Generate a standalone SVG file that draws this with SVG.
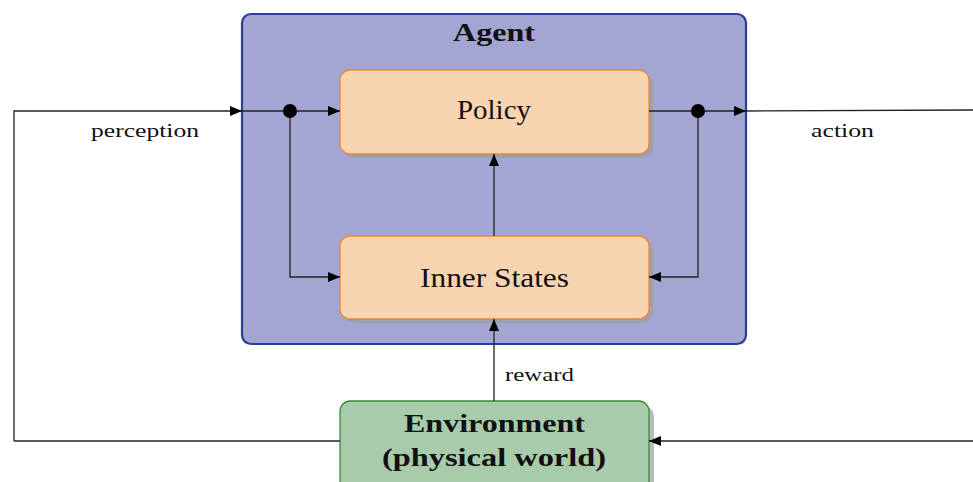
<svg xmlns="http://www.w3.org/2000/svg" width="973" height="482" viewBox="0 0 973 482">
<defs>
<marker id="arr" viewBox="0 0 12 10" refX="12" refY="5" markerWidth="12" markerHeight="10" markerUnits="userSpaceOnUse" orient="auto">
<path d="M0,0 L12,5 L0,10 Z" fill="#000"/>
</marker>
</defs>
<style>
.t{font-family:"Liberation Serif","DejaVu Serif",serif;fill:#111;text-anchor:middle}
.box{fill:#f8d4b0;stroke:#e8883a;stroke-width:1.3}
.sh{fill:#9c9c9c;opacity:0.7}
.ln{fill:none;stroke:#222;stroke-width:1.3}
</style>
<rect width="973" height="482" fill="#fff"/>
<g id="agent">
<rect x="242" y="14" width="504" height="330" rx="9" fill="#a3a5d3" stroke="#2b3f9a" stroke-width="2.2"/>
<text class="t" x="494" y="41" font-size="25" font-weight="bold" textLength="82" lengthAdjust="spacingAndGlyphs">Agent</text>
</g>
<g id="policy">
<rect class="sh" x="344" y="74" width="309" height="84" rx="10"/>
<rect class="box" x="340" y="70" width="309" height="84" rx="10"/>
<text class="t" x="494" y="119" font-size="27" textLength="74" lengthAdjust="spacingAndGlyphs">Policy</text>
</g>
<g id="inner-states">
<rect class="sh" x="344" y="240" width="309" height="83" rx="10"/>
<rect class="box" x="340" y="236" width="309" height="83" rx="10"/>
<text class="t" x="494.5" y="287" font-size="27" textLength="149" lengthAdjust="spacingAndGlyphs">Inner States</text>
</g>
<g id="environment">
<rect class="sh" x="345" y="406" width="309" height="90" rx="10"/>
<rect x="340" y="401" width="309" height="95" rx="10" fill="#a8ccab" stroke="#3a8a3e" stroke-width="1.3"/>
<text class="t" x="494.5" y="432" font-size="25" font-weight="bold" textLength="181" lengthAdjust="spacingAndGlyphs">Environment</text>
<text class="t" x="494" y="466" font-size="25" font-weight="bold" textLength="224" lengthAdjust="spacingAndGlyphs">(physical world)</text>
</g>
<g id="connectors">
<path class="ln" d="M14,441 L14,111 L242,111" marker-end="url(#arr)"/>
<path class="ln" d="M242,111 L340,111" marker-end="url(#arr)"/>
<path class="ln" d="M290,111 L290,277 L340,277" marker-end="url(#arr)"/>
<path class="ln" d="M649,111 L746,111" marker-end="url(#arr)"/>
<path class="ln" d="M746,111 L973,110"/>
<path class="ln" d="M698,111 L698,277 L649,277" marker-end="url(#arr)"/>
<path class="ln" d="M494,236 L494,154" marker-end="url(#arr)"/>
<path class="ln" d="M494,401 L494,319" marker-end="url(#arr)"/>
<path class="ln" d="M973,441 L649,441" marker-end="url(#arr)"/>
<path class="ln" d="M340,441 L14,441"/>
<circle cx="290" cy="111" r="7" fill="#000"/>
<circle cx="698" cy="111" r="7" fill="#000"/>
<text class="t" x="145" y="137" font-size="19" textLength="108" lengthAdjust="spacingAndGlyphs">perception</text>
<text class="t" x="842.5" y="137" font-size="19" textLength="63" lengthAdjust="spacingAndGlyphs">action</text>
<text class="t" x="539.5" y="381" font-size="19" textLength="69" lengthAdjust="spacingAndGlyphs">reward</text>
</g>
</svg>
